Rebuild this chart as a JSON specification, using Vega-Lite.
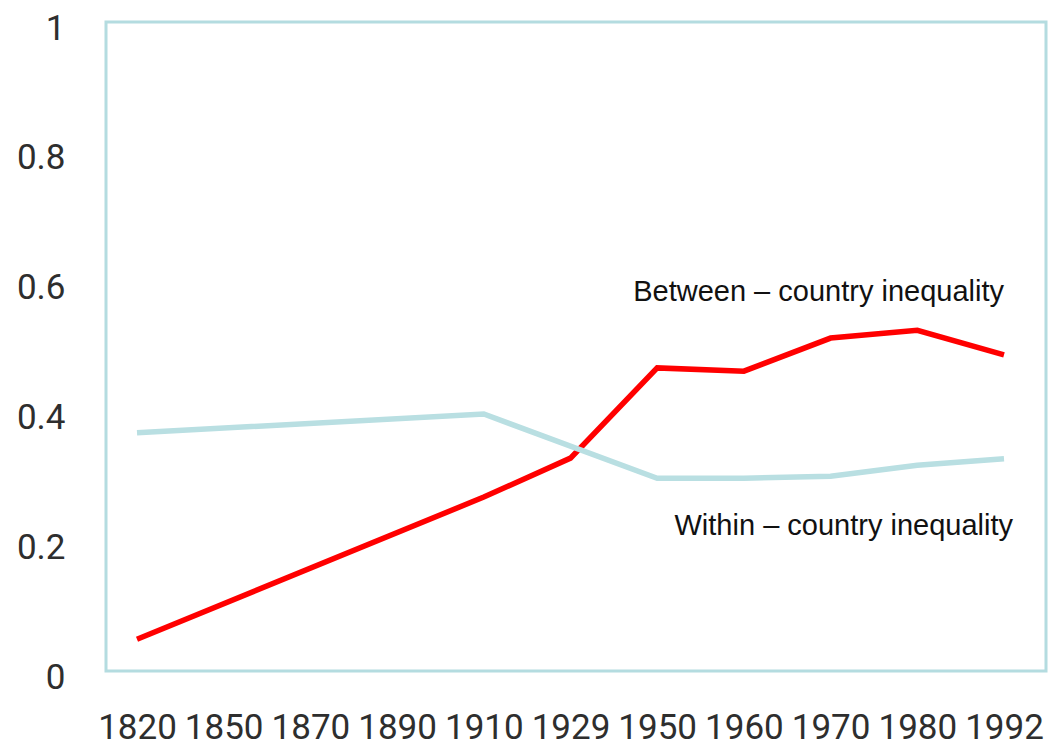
{
  "$schema": "https://vega.github.io/schema/vega-lite/v6.json",
  "width": 940,
  "height": 649,
  "autosize": {"type": "none"},
  "padding": {"left": 106, "top": 22, "right": 2, "bottom": 76},
  "background": "white",
  "config": {
    "view": {"stroke": "#b4dce0", "strokeWidth": 3},
    "axis": {"grid": false, "domain": false, "ticks": false, "tickSize": 0, "title": null,
             "labelFont": "Roboto, sans-serif",
             "labelFontSize": 35, "labelColor": "#2e2e2e"}
  },
  "datasets": {
    "lines": [
      {"year": "1820", "series": "Between", "value": 0.049},
      {"year": "1910", "series": "Between", "value": 0.268},
      {"year": "1929", "series": "Between", "value": 0.328},
      {"year": "1950", "series": "Between", "value": 0.467},
      {"year": "1960", "series": "Between", "value": 0.462},
      {"year": "1970", "series": "Between", "value": 0.513},
      {"year": "1980", "series": "Between", "value": 0.525},
      {"year": "1992", "series": "Between", "value": 0.487},
      {"year": "1820", "series": "Within", "value": 0.367},
      {"year": "1910", "series": "Within", "value": 0.396},
      {"year": "1950", "series": "Within", "value": 0.297},
      {"year": "1960", "series": "Within", "value": 0.297},
      {"year": "1970", "series": "Within", "value": 0.300},
      {"year": "1980", "series": "Within", "value": 0.317},
      {"year": "1992", "series": "Within", "value": 0.327}
    ]
  },
  "layer": [
    {
      "data": {"name": "lines"},
      "mark": {"type": "line", "strokeWidth": 5.5, "strokeJoin": "miter"},
      "encoding": {
        "x": {"field": "year", "type": "ordinal",
              "scale": {"type": "point", "padding": 0, "domain": ["1820","1850","1870","1890","1910","1929","1950","1960","1970","1980","1992"], "range": [31, 898]},
              "axis": {"labelAngle": 0, "labelPadding": 67, "labelBaseline": "alphabetic"}},
        "y": {"field": "value", "type": "quantitative",
              "scale": {"domain": [0, 1], "nice": false, "zero": true},
              "axis": {"values": [0, 0.2, 0.4, 0.6, 0.8, 1], "format": ".1~f", "labelPadding": 41, "labelOffset": 6}},
        "color": {"field": "series", "type": "nominal",
                  "scale": {"domain": ["Between", "Within"], "range": ["#ff0000", "#b9dfe2"]},
                  "legend": null},
        "order": {"field": "series", "sort": "descending"}
      }
    },
    {
      "data": {"values": [{"year": "1992", "value": 0.570, "label": "Between – country inequality"}]},
      "mark": {"type": "text", "align": "right", "baseline": "alphabetic", "font": "Liberation Sans, Arial, sans-serif", "fontSize": 29, "color": "#111111"},
      "encoding": {
        "x": {"field": "year", "type": "ordinal"},
        "y": {"field": "value", "type": "quantitative"},
        "text": {"field": "label"}
      }
    },
    {
      "data": {"values": [{"year": "1992", "value": 0.210, "label": "Within – country inequality"}]},
      "mark": {"type": "text", "align": "right", "baseline": "alphabetic", "dx": 9, "font": "Liberation Sans, Arial, sans-serif", "fontSize": 29, "color": "#111111"},
      "encoding": {
        "x": {"field": "year", "type": "ordinal"},
        "y": {"field": "value", "type": "quantitative"},
        "text": {"field": "label"}
      }
    }
  ]
}
